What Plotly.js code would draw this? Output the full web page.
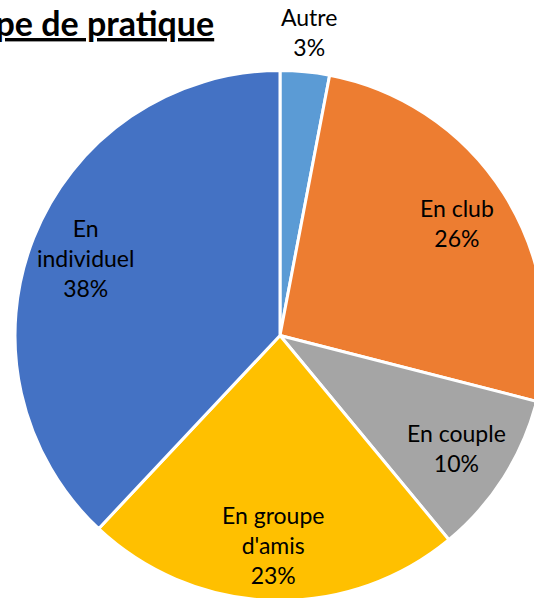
<!DOCTYPE html>
<html>
<head>
<meta charset="utf-8">
<script src="https://cdn.plot.ly/plotly-3.0.1.min.js"></script>
<style>
  html, body { margin: 0; padding: 0; overflow: hidden; background: #fff; }
</style>
</head>
<body>
<div id="pie"></div>
<script>
var categories = ["Autre", "En club", "En couple", "En groupe d'amis", "En individuel"];
var labelText = ["Autre", "En club", "En couple", "En groupe<br>d'amis", "En<br>individuel"];
var shares = [3, 26, 10, 23, 38];
var colors = ["#5B9BD5", "#ED7D31", "#A5A5A5", "#FFC000", "#4472C4"];

// plot is a bit wider/taller than the window so the pie gets cut on the right like the original
var W = 570, H = 612;
var pieL = 15, pieR = 545, pieT = 70, pieB = 601;
var cx = (pieL + pieR) / 2, cy = (pieT + pieB) / 2;
var rad = Math.min(pieR - pieL, pieB - pieT) / 2;

var trace = {
  type: 'pie',
  labels: categories,
  values: shares,
  textinfo: 'none',
  sort: false,
  direction: 'clockwise',
  rotation: 0,
  marker: { colors: colors, line: { color: '#ffffff', width: 3 } },
  domain: { x: [pieL / W, pieR / W], y: [1 - pieB / H, 1 - pieT / H] },
  hoverinfo: 'none'
};

// data labels placed along each slice's middle angle (like Excel's best fit)
var total = shares.reduce(function (a, b) { return a + b; }, 0);
var annots = [];
var cum = 0;
shares.forEach(function (v, i) {
  var mid = (cum + v / 2) / total * 2 * Math.PI;
  cum += v;
  var pct = Math.round(v / total * 100);
  var f = pct < 5 ? 1.15 : 0.79;
  var px = cx + f * rad * Math.sin(mid);
  var py = cy - f * rad * Math.cos(mid);
  annots.push({
    text: labelText[i] + '<br>' + pct + '%',
    xref: 'paper', yref: 'paper',
    x: px / W, y: 1 - py / H,
    xanchor: 'center', yanchor: 'middle',
    showarrow: false,
    font: { family: 'Lato, sans-serif', size: 23, color: '#000' }
  });
});

annots.push({
  text: '<b><u>Type de pratique</u></b>',
  xref: 'paper', yref: 'paper',
  x: 216 / W, y: 1 - 0 / H,
  xanchor: 'right', yanchor: 'top',
  showarrow: false,
  font: { family: 'Lato, sans-serif', size: 34, color: '#000' }
});

var layout = {
  width: W,
  height: H,
  margin: { l: 0, r: 0, t: 0, b: 0 },
  showlegend: false,
  paper_bgcolor: '#fff',
  annotations: annots
};

Plotly.newPlot('pie', [trace], layout, { displayModeBar: false, staticPlot: true });
</script>
</body>
</html>
